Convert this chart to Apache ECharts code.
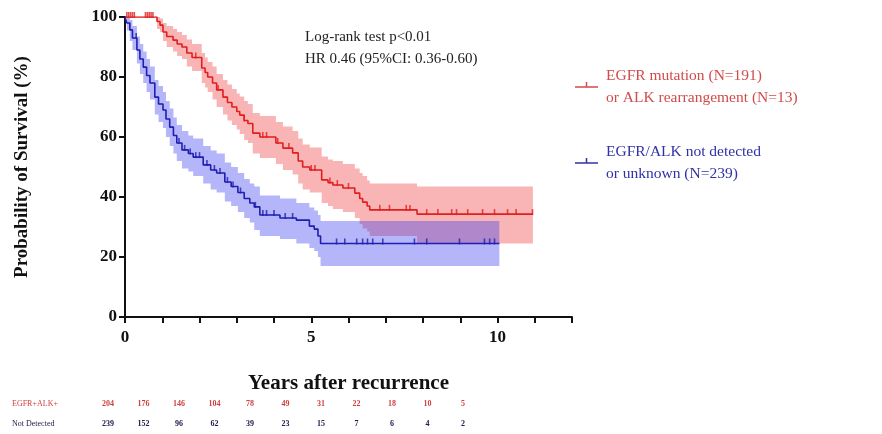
<!DOCTYPE html>
<html><head><meta charset="utf-8">
<script src="https://cdn.jsdelivr.net/npm/echarts@6/dist/echarts.min.js"></script>
<style>html,body{margin:0;padding:0;background:#fff}#c{width:882px;height:434px}</style>
</head><body><div id="c"></div>
<script>
// ---- Data ----
const redTimes = [0,0.86,0.94,1.02,1.12,1.29,1.4,1.53,1.66,1.8,2.06,2.15,2.22,2.35,2.46,2.63,2.75,2.87,3.0,3.08,3.2,3.3,3.43,3.62,4.05,4.24,4.5,4.65,4.77,4.96,5.28,5.45,5.58,5.85,6.17,6.3,6.38,6.5,6.57,7.84,10.95];
const redSurv  = [100,98.5,97.3,95,93.5,92.3,91,90,88,86.5,83,81.5,80,78,75.7,73.3,71.5,70,68.5,67.3,65.5,64.5,61.3,60,58,56.3,54.7,52,50,49,45.7,44.8,44,43,41.3,39.5,38.3,37,35.7,34.3,34.3];
const redUpper = [100,100,99.5,98,97,96,95,94,92.5,91,88,86.5,85,83.5,81,79,77.5,76,74.5,73.5,72,71,68,67,65,63.5,62,59.5,57.5,56.5,53.5,52.5,52,51,49.5,48,47,45.5,44.5,43.5,43.5];
const redLower = [100,96,95,92,90,88.5,87,86,83.5,82,78,76.5,75,72.5,70,67.5,65.5,64,62.5,61,59,58,54.5,53,51,49,47.5,44.5,42.5,41.5,38,37,36,35,33,31,29.5,28.5,27,24.5,24.5];
const redCensor = [0.05,0.1,0.15,0.2,0.25,0.55,0.6,0.65,0.7,0.75,1.9,2.5,3.2,3.7,3.8,4.1,4.4,5.0,5.1,5.5,5.7,6.0,6.84,7.1,7.55,7.65,8.1,8.4,8.77,8.9,9.2,9.6,9.92,10.27,10.5,10.94];

const blueTimes = [0,0.05,0.13,0.2,0.32,0.4,0.49,0.58,0.67,0.8,0.9,1.02,1.1,1.2,1.3,1.39,1.53,1.7,1.83,2.1,2.3,2.46,2.68,2.85,3.03,3.2,3.35,3.47,3.62,4.16,4.6,4.95,5.08,5.18,5.25,10.05];
const blueSurv  = [100,98,95.7,93,89,86,83.3,80.5,78,73.3,71,69,66,63.3,60.5,58,55.7,54.5,53.3,50.7,49,48,45,43.5,41.5,39.5,38,36.7,34,33,32.3,30.3,29.3,27,24.5,24.5];
const blueUpper = [100,100,99,97,93.5,91,88.5,86,83.5,79,77,75,72,69.5,66.5,64,62,60.5,59.5,57,55.5,54.5,51.5,50,48,46,44.5,43.5,40.5,39.5,38,36.5,35.5,34,32,32];
const blueLower = [100,95.5,92,89,84.5,81,78,75,72.5,67.5,65,63,60,57,54.5,52,49.5,48.5,47,44.5,42.5,41.5,38.5,37,35,33,31.5,29,27,26,24.5,23,22,20,17,17];
const blueCensor = [0.3,1.45,1.6,1.75,1.9,2.0,2.2,2.4,2.55,2.75,2.9,3.1,3.5,3.7,3.8,4.0,4.3,4.5,5.68,5.9,6.22,6.38,6.51,6.65,6.92,7.77,8.1,8.98,9.65,9.79,9.92];

const atRiskRed  = [204,176,146,104,78,49,31,22,18,10,5];
const atRiskBlue = [239,152,96,62,39,23,15,7,6,4,2];
const rowLabels = ['EGFR+ALK+','Not Detected'];
const legendRed = ['EGFR mutation (N=191)','or ALK rearrangement (N=13)'];
const legendBlue = ['EGFR/ALK not detected','or unknown (N=239)'];
const annot = ['Log-rank test p<0.01','HR 0.46 (95%CI: 0.36-0.60)'];

// ---- helpers ----
const RED='#e01f1f', BLUE='#1f1fb0';
const FONT='Liberation Serif';
function pairs(t,v){return t.map((x,i)=>[x,v[i]]);}
function survAt(t,times,surv){let s=surv[0];for(let i=0;i<times.length;i++){if(times[i]<=t)s=surv[i];}return s;}
function bandSeries(times,lower,upper,color,z){
  return {type:'custom',silent:true,z:z,data:[[times[0],upper[0]]],
    renderItem:function(params,api){
      const pts=[];
      for(let i=0;i<times.length;i++){
        if(i>0) pts.push(api.coord([times[i],upper[i-1]]));
        pts.push(api.coord([times[i],upper[i]]));
      }
      for(let i=times.length-1;i>=0;i--){
        pts.push(api.coord([times[i],lower[i]]));
        if(i>0) pts.push(api.coord([times[i],lower[i-1]]));
      }
      return {type:'polygon',shape:{points:pts},style:{fill:color,stroke:null}};
    }};
}

const chart = echarts.init(document.getElementById('c'),null,{renderer:'canvas'});

const graphic = [];
annot.forEach((s,i)=>graphic.push({type:'text',left:305,top:30+i*22,style:{text:s,font:'15px "'+FONT+'"',fill:'#222'}}));
function legendBlock(lines,color,y){
  graphic.push({type:'line',shape:{x1:575,y1:y,x2:598,y2:y},style:{stroke:color,lineWidth:1.5}});
  graphic.push({type:'line',shape:{x1:586.5,y1:y-5,x2:586.5,y2:y},style:{stroke:color,lineWidth:1.5}});
  lines.forEach((s,i)=>graphic.push({type:'text',left:606,top:y-19+i*22,style:{text:s,font:'15.5px "'+FONT+'"',fill:color}}));
}
legendBlock(legendRed,'#d24a4a',87);
legendBlock(legendBlue,'#3030a8',163);
graphic.push({type:'text',left:12,top:400,style:{text:rowLabels[0],font:'8px "'+FONT+'"',fill:'#d04040'}});
graphic.push({type:'text',left:12,top:420,style:{text:rowLabels[1],font:'8px "'+FONT+'"',fill:'#202050'}});
atRiskRed.forEach((v,i)=>graphic.push({type:'text',x:108+35.5*i,y:400,style:{text:String(v),font:'bold 8px "'+FONT+'"',fill:'#d04040',align:'center'}}));
atRiskBlue.forEach((v,i)=>graphic.push({type:'text',x:108+35.5*i,y:420,style:{text:String(v),font:'bold 8px "'+FONT+'"',fill:'#202050',align:'center'}}));

const option = {
  animation:false,
  grid:{left:125,right:310,top:17,bottom:117,containLabel:false},
  xAxis:{type:'value',min:0,max:12,interval:1,
    name:'Years after recurrence',nameLocation:'middle',nameGap:56,
    nameTextStyle:{fontFamily:FONT,fontWeight:'bold',fontSize:21,color:'#111'},
    axisLine:{lineStyle:{color:'#111',width:2}},
    axisTick:{length:6,lineStyle:{color:'#111',width:2}},
    axisLabel:{fontFamily:FONT,fontWeight:'bold',fontSize:17,color:'#111',margin:12,
      formatter:v=>(v%5===0&&v<=10)?String(v):''},
    splitLine:{show:false}},
  yAxis:{type:'value',min:0,max:100,interval:20,
    name:'Probability of Survival (%)',nameLocation:'middle',nameGap:93,
    nameTextStyle:{fontFamily:FONT,fontWeight:'bold',fontSize:19,color:'#111'},
    axisLine:{show:true,lineStyle:{color:'#111',width:2}},
    axisTick:{show:true,length:6,lineStyle:{color:'#111',width:2}},
    axisLabel:{fontFamily:FONT,fontWeight:'bold',fontSize:17,color:'#111',margin:8},
    splitLine:{show:false}},
  graphic:graphic,
  series:[
    bandSeries(redTimes,redLower,redUpper,'rgba(240,60,60,0.38)',1),
    bandSeries(blueTimes,blueLower,blueUpper,'rgba(60,60,240,0.38)',1),
    {type:'line',step:'end',data:pairs(redTimes,redSurv),symbol:'none',lineStyle:{color:RED,width:1.6},z:3},
    {type:'line',step:'end',data:pairs(blueTimes,blueSurv),symbol:'none',lineStyle:{color:BLUE,width:1.6},z:3},
    {type:'scatter',data:redCensor.map(t=>[t,survAt(t,redTimes,redSurv)]),symbol:'rect',symbolSize:[1.6,6],symbolOffset:[0,-2],itemStyle:{color:RED},z:4},
    {type:'scatter',data:blueCensor.map(t=>[t,survAt(t,blueTimes,blueSurv)]),symbol:'rect',symbolSize:[1.6,6],symbolOffset:[0,-2],itemStyle:{color:BLUE},z:4}
  ]
};
chart.setOption(option);
</script></body></html>
